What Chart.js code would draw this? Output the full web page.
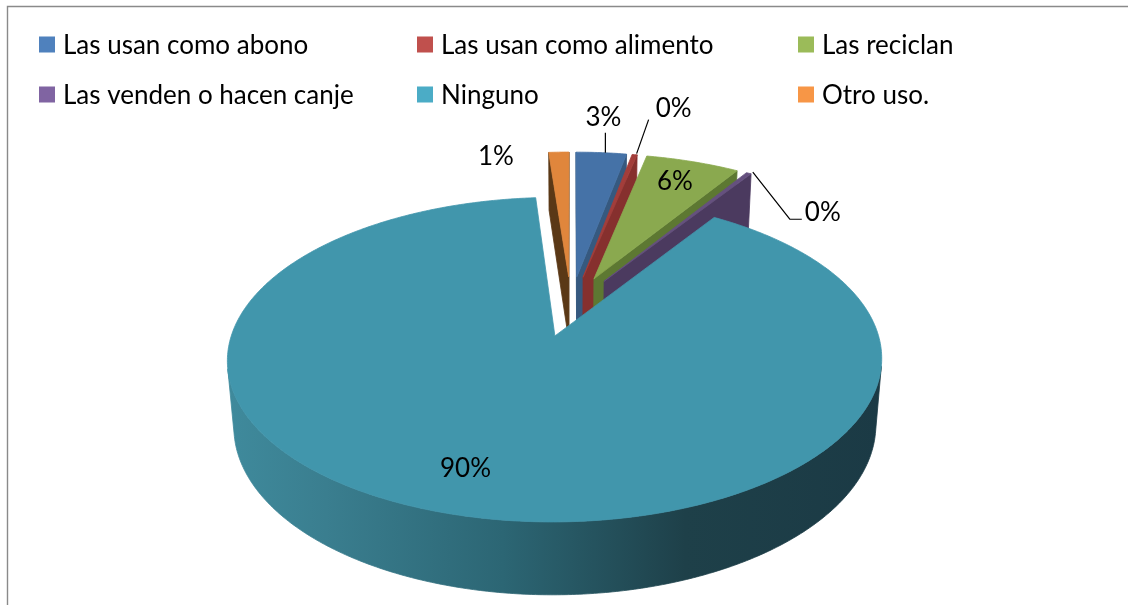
<!DOCTYPE html>
<html>
<head>
<meta charset="utf-8">
<script src="https://cdn.jsdelivr.net/npm/chart.js@4.4.0/dist/chart.umd.min.js"></script>
<style>
  html, body { margin: 0; padding: 0; background: #fff; }
  #wrap { position: relative; width: 1128px; height: 605px; }
</style>
</head>
<body>
<div id="wrap"><canvas id="pie" width="1128" height="605"></canvas></div>
<script>
// data
const categories = ['Las usan como abono', 'Las usan como alimento', 'Las reciclan',
                    'Las venden o hacen canje', 'Ninguno', 'Otro uso.'];
const values = [3.0, 0.3, 5.6, 0.3, 89.6, 1.2];

// colours
const legendColors = ['#4F81BD', '#C0504D', '#9BBB59', '#8064A2', '#4BACC6', '#F79646'];
const topColors    = ['#4572a7', '#a33d3a', '#8aa94f', '#65507f', '#4196ac', '#e0863c'];
const wallColors   = ['#36597f', '#86302e', '#5d7832', '#4b3a5f', '#2e6f80', '#5a3816'];

// 3d view (perspective) settings
const view = { cx: 571, cy: 306, f: 1945, d: 6.18, tilt: 28.5 * Math.PI / 180, h: 0.238, explode: 0.2 };
const FONT = '26px Lato';

// label placement relative to the rim point of each slice
const labelSpots = [
  { dx: 2,   dy: -35, line: [[4, 0], [4, -20]] },
  { dx: 39,  dy: -46, line: [[2, -1], [14, -35]] },
  { dx: -18, dy: 20 },
  { dx: 74,  dy: 39, line: [[4, -1], [41, 46], [53, 46]] },
  { dx: 7,   dy: -46 },
  { dx: -63, dy: 4 }
];

function project(x, z, hgt) {
  const ca = Math.cos(view.tilt), sa = Math.sin(view.tilt);
  const w = view.d + z * ca - hgt * sa;
  const yc = z * sa + hgt * ca;
  return [view.cx + view.f * x / w, view.cy - view.f * yc / w];
}

function sliceGeom(chart) {
  const arcs = chart.getDatasetMeta(0).data;
  return arcs.map((a, i) => {
    const p0 = a.startAngle + Math.PI / 2, p1 = a.endAngle + Math.PI / 2;
    const m = (p0 + p1) / 2;
    return { i, p0, p1, m, cx: view.explode * Math.sin(m), cz: view.explode * Math.cos(m) };
  });
}

function rim(s, phi, hgt) {
  return project(s.cx + Math.sin(phi), s.cz + Math.cos(phi), hgt);
}

const camZ = () => -view.d * Math.cos(view.tilt);

function drawWalls(ctx, s) {
  const qz = camZ();
  // radial walls
  [[s.p0, -1], [s.p1, 1]].forEach(([phi, sign]) => {
    const nx = sign * Math.cos(phi), nz = -sign * Math.sin(phi);
    const dot = nx * (0 - s.cx) + nz * (qz - s.cz);
    if (dot <= 0) return;
    const a = project(s.cx, s.cz, 0), b = rim(s, phi, 0),
          c = rim(s, phi, -view.h), d = project(s.cx, s.cz, -view.h);
    ctx.beginPath();
    ctx.moveTo(a[0], a[1]); ctx.lineTo(b[0], b[1]); ctx.lineTo(c[0], c[1]); ctx.lineTo(d[0], d[1]);
    ctx.closePath();
    ctx.fillStyle = wallColors[s.i];
    ctx.strokeStyle = wallColors[s.i];
    ctx.lineWidth = 0.8;
    ctx.fill(); ctx.stroke();
  });
  // outer wall, only the part facing the camera
  const n = Math.max(2, Math.ceil((s.p1 - s.p0) / 0.01));
  let run = [];
  const runs = [];
  for (let k = 0; k <= n; k++) {
    const phi = s.p0 + (s.p1 - s.p0) * k / n;
    const sx = Math.sin(phi), cz = Math.cos(phi);
    const vis = (0 - s.cx - sx) * sx + (qz - s.cz - cz) * cz > 0;
    if (vis) run.push(phi);
    else if (run.length) { runs.push(run); run = []; }
  }
  if (run.length) runs.push(run);
  runs.forEach(r => {
    if (r.length < 2) return;
    ctx.beginPath();
    r.forEach((phi, k) => { const p = rim(s, phi, 0); k ? ctx.lineTo(p[0], p[1]) : ctx.moveTo(p[0], p[1]); });
    for (let k = r.length - 1; k >= 0; k--) { const p = rim(s, r[k], -view.h); ctx.lineTo(p[0], p[1]); }
    ctx.closePath();
    let fill = wallColors[s.i];
    if (s.i === 4) {
      const g = ctx.createLinearGradient(228, 0, 882, 0);
      g.addColorStop(0, '#3f8a9c');
      g.addColorStop(0.15, '#3a7e8f');
      g.addColorStop(0.42, '#2c6674');
      g.addColorStop(0.7, '#1e4049');
      g.addColorStop(1, '#1b3a45');
      fill = g;
    }
    ctx.fillStyle = fill;
    ctx.strokeStyle = fill;
    ctx.lineWidth = 0.8;
    ctx.fill(); ctx.stroke();
  });
}

function drawTop(ctx, s) {
  const n = Math.max(2, Math.ceil((s.p1 - s.p0) / 0.01));
  ctx.beginPath();
  const c = project(s.cx, s.cz, 0);
  ctx.moveTo(c[0], c[1]);
  for (let k = 0; k <= n; k++) {
    const p = rim(s, s.p0 + (s.p1 - s.p0) * k / n, 0);
    ctx.lineTo(p[0], p[1]);
  }
  ctx.closePath();
  ctx.fillStyle = topColors[s.i];
  ctx.strokeStyle = topColors[s.i];
  ctx.lineWidth = 0.8;
  ctx.fill(); ctx.stroke();
}

const pie3d = {
  id: 'pie3d',
  beforeDatasetsDraw(chart) {
    const ctx = chart.ctx;
    const slices = sliceGeom(chart);
    ctx.save();
    slices.slice().sort((a, b) => b.cz - a.cz).forEach(s => drawWalls(ctx, s));
    slices.forEach(s => drawTop(ctx, s));
    ctx.restore();
    return false;
  },
  afterDraw(chart) {
    const ctx = chart.ctx;
    const slices = sliceGeom(chart);
    const total = values.reduce((a, b) => a + b, 0);
    ctx.save();
    // frame
    ctx.strokeStyle = '#8a8a8a';
    ctx.lineWidth = 1.4;
    ctx.beginPath();
    ctx.moveTo(7.5, 605); ctx.lineTo(7.5, 6.5); ctx.lineTo(1128, 6.5);
    ctx.stroke();

    // data labels
    ctx.font = FONT;
    ctx.fillStyle = '#000';
    ctx.textAlign = 'center';
    ctx.textBaseline = 'middle';
    slices.forEach(s => {
      const spot = labelSpots[s.i];
      const m = rim(s, s.m, 0);
      if (spot.line) {
        ctx.strokeStyle = '#000';
        ctx.lineWidth = 1.2;
        ctx.beginPath();
        spot.line.forEach(([x, y], k) => k ? ctx.lineTo(m[0] + x, m[1] + y) : ctx.moveTo(m[0] + x, m[1] + y));
        ctx.stroke();
      }
      const pct = Math.round(values[s.i] / total * 100) + '%';
      ctx.fillText(pct, m[0] + spot.dx, m[1] + spot.dy);
    });

    // legend, three columns
    const cols = [39, 417, 798], rows = [44.5, 94.5];
    ctx.textAlign = 'left';
    categories.forEach((label, i) => {
      const x = cols[i % 3], y = rows[Math.floor(i / 3)];
      ctx.fillStyle = legendColors[i];
      ctx.fillRect(x, y - 8, 16, 16);
      ctx.fillStyle = '#000';
      ctx.fillText(label, x + 24, y + 1);
    });
    ctx.restore();
  }
};

new Chart(document.getElementById('pie'), {
  type: 'pie',
  data: {
    labels: categories,
    datasets: [{
      data: values,
      backgroundColor: topColors,
      borderWidth: 0
    }]
  },
  options: {
    responsive: false,
    animation: false,
    devicePixelRatio: 1,
    plugins: {
      legend: { display: false },
      tooltip: { enabled: false }
    }
  },
  plugins: [pie3d]
});
</script>
</body>
</html>
